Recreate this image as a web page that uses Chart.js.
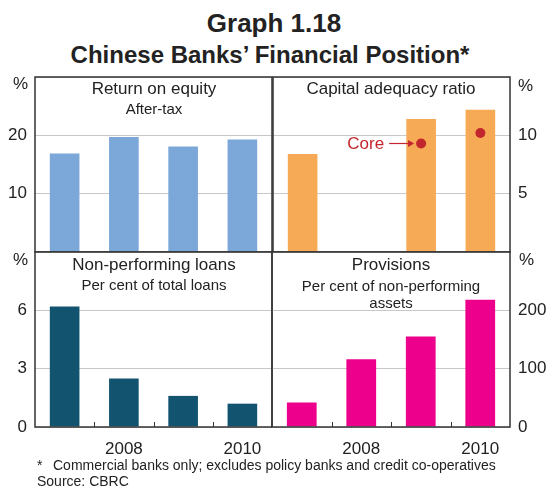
<!DOCTYPE html>
<html>
<head>
<meta charset="utf-8">
<script src="https://cdn.jsdelivr.net/npm/chart.js@4.4.1/dist/chart.umd.min.js"></script>
<style>
  html, body { margin: 0; padding: 0; background: #fff; }
  body { font-family: "Liberation Sans", Arial, sans-serif; color: #222; }
  #wrap { position: relative; width: 548px; height: 493px; overflow: hidden; }
  #wrap canvas { position: absolute; }
  .txt { position: absolute; white-space: nowrap; line-height: 1; }
  .ctr { transform: translateX(-50%); text-align: center; }
  .h1 { font-weight: bold; font-size: 26px; }
  .h2 { font-weight: bold; font-size: 24px; }
  .pt { font-size: 17px; }
  .ps { font-size: 15px; }
  .pct { font-size: 17px; }
  .foot { font-size: 14px; }
</style>
</head>
<body>
<div id="wrap">
  <div class="txt ctr h1" style="left:274px;top:10px;">Graph 1.18</div>
  <div class="txt ctr h2" style="left:270px;top:43px;">Chinese Banks’ Financial Position*</div>

  <canvas id="roe" style="left:0;top:67px;" width="276" height="190"></canvas>
  <canvas id="car" style="left:268px;top:67px;" width="280" height="190"></canvas>
  <canvas id="npl" style="left:0;top:242px;" width="276" height="220"></canvas>
  <canvas id="prov" style="left:268px;top:242px;" width="280" height="220"></canvas>

  <div class="txt ctr pt" style="left:154px;top:80px;">Return on equity</div>
  <div class="txt ctr ps" style="left:154px;top:101px;">After-tax</div>
  <div class="txt ctr pt" style="left:391px;top:80px;">Capital adequacy ratio</div>
  <div class="txt ctr pt" style="left:154px;top:256px;">Non-performing loans</div>
  <div class="txt ctr ps" style="left:154px;top:277px;">Per cent of total loans</div>
  <div class="txt ctr pt" style="left:391px;top:256px;">Provisions</div>
  <div class="txt ctr ps" style="left:391px;top:277px;line-height:17px;">Per cent of non-performing<br>assets</div>

  <div class="txt pct" style="left:13px;top:75px;">%</div>
  <div class="txt pct" style="left:13px;top:251px;">%</div>
  <div class="txt pct" style="left:518px;top:77px;">%</div>
  <div class="txt pct" style="left:519px;top:251px;">%</div>

  <div class="txt foot" style="left:37px;top:458px;">*</div>
  <div class="txt foot" style="left:53px;top:458px;">Commercial banks only; excludes policy banks and credit co-operatives</div>
  <div class="txt foot" style="left:37px;top:474px;">Source: CBRC</div>
</div>

<script>
const years = ['2007', '2008', '2009', '2010'];

// Return on equity, after-tax (%)
const roeValues = [16.9, 19.7, 18.1, 19.3];
// Capital adequacy ratio (%)
const carValues = [8.4, null, 11.4, 12.2];
const coreValues = [null, null, 9.3, 10.2];
// Non-performing loans, per cent of total loans
const nplValues = [6.2, 2.5, 1.6, 1.2];
// Provisions, per cent of non-performing assets
const provValues = [42, 116, 155, 218];

const FONT = '"Liberation Sans", Arial, sans-serif';
const FRAME = '#333333';
const GRID = '#c8c8c8';

// frame round each panel + small inner ticks between years on the bottom row
const framePlugin = {
    id: 'frame',
    afterDraw(chart, args, opts) {
        const { ctx, chartArea: a } = chart;
        ctx.save();
        ctx.strokeStyle = FRAME;
        if (opts.yearTicks) {
            const x = chart.scales.x;
            ctx.lineWidth = 1;
            for (let i = 0; i < years.length - 1; i++) {
                const px = Math.round((x.getPixelForValue(i) + x.getPixelForValue(i + 1)) / 2) + 0.5;
                ctx.beginPath();
                ctx.moveTo(px, a.bottom);
                ctx.lineTo(px, a.bottom - 5);
                ctx.stroke();
            }
        }
        ctx.lineWidth = 1.5;
        ctx.strokeRect(a.left, a.top, a.right - a.left, a.bottom - a.top);
        ctx.restore();
    }
};

// "Core ->" label next to the 2009 core point
const corePlugin = {
    id: 'coreLabel',
    afterDatasetsDraw(chart) {
        if (chart.canvas.id !== 'car') return;
        const { ctx } = chart;
        const px = chart.scales.x.getPixelForValue(2);
        const py = chart.scales.y.getPixelForValue(coreValues[2]);
        ctx.save();
        ctx.fillStyle = '#c1272d';
        ctx.strokeStyle = '#c1272d';
        ctx.font = '17px ' + FONT;
        ctx.textAlign = 'right';
        ctx.textBaseline = 'middle';
        ctx.fillText('Core', px - 37, py + 1);
        ctx.lineWidth = 1.2;
        ctx.beginPath();
        ctx.moveTo(px - 32, py);
        ctx.lineTo(px - 12, py);
        ctx.stroke();
        ctx.beginPath();
        ctx.moveTo(px - 7, py);
        ctx.lineTo(px - 13, py - 3.5);
        ctx.lineTo(px - 13, py + 3.5);
        ctx.closePath();
        ctx.fill();
        ctx.restore();
    }
};

function makePanel(id, datasets, side, max, step, opts) {
    const topRow = !opts.showX;
    return new Chart(document.getElementById(id), {
        type: 'bar',
        data: { labels: years, datasets },
        options: {
            responsive: false,
            animation: false,
            events: [],
            layout: {
                padding: side === 'left'
                    ? { top: 10, bottom: topRow ? 5 : 0, left: 0, right: 4 }
                    : { top: 10, bottom: topRow ? 5 : 0, left: 4, right: 0 }
            },
            plugins: {
                legend: { display: false },
                tooltip: { enabled: false },
                frame: { yearTicks: !!opts.showX }
            },
            scales: {
                x: {
                    display: !!opts.showX,
                    grid: { display: false },
                    border: { display: false },
                    ticks: {
                        font: { family: FONT, size: 17 },
                        color: '#222',
                        padding: 4,
                        autoSkip: false,
                        maxRotation: 0,
                        callback: (v, i) => (years[i] === '2008' || years[i] === '2010') ? years[i] : ''
                    },
                    afterFit: s => {
                        if (opts.showX) s.height = 35;
                        s.paddingLeft = 0;
                        s.paddingRight = 0;
                    }
                },
                y: {
                    position: side,
                    min: 0,
                    max: max,
                    grid: { color: GRID, lineWidth: 1, drawTicks: false },
                    border: { display: false },
                    ticks: {
                        stepSize: step,
                        padding: 8,
                        font: { family: FONT, size: 17 },
                        color: '#222',
                        callback: v => (v === max || (topRow && v === 0)) ? '' : v
                    },
                    afterFit: s => {
                        s.width = side === 'left' ? 35 : 38;
                        s.paddingTop = 0;
                        s.paddingBottom = 0;
                    }
                }
            }
        },
        plugins: [framePlugin, corePlugin]
    });
}

function barSet(values, color) {
    return {
        type: 'bar',
        data: values,
        backgroundColor: color,
        categoryPercentage: 1,
        barPercentage: 0.5,
        order: 2
    };
}

makePanel('roe', [barSet(roeValues, '#7ba7d9')], 'left', 30, 10, {});
makePanel('car', [
    barSet(carValues, '#f7aa55'),
    {
        type: 'line',
        data: coreValues,
        showLine: false,
        pointRadius: 5,
        pointBackgroundColor: '#c1272d',
        pointBorderWidth: 0,
        order: 1
    }
], 'right', 15, 5, {});
makePanel('npl', [barSet(nplValues, '#125470')], 'left', 9, 3, { showX: true });
makePanel('prov', [barSet(provValues, '#ec008c')], 'right', 300, 100, { showX: true });
</script>
</body>
</html>
